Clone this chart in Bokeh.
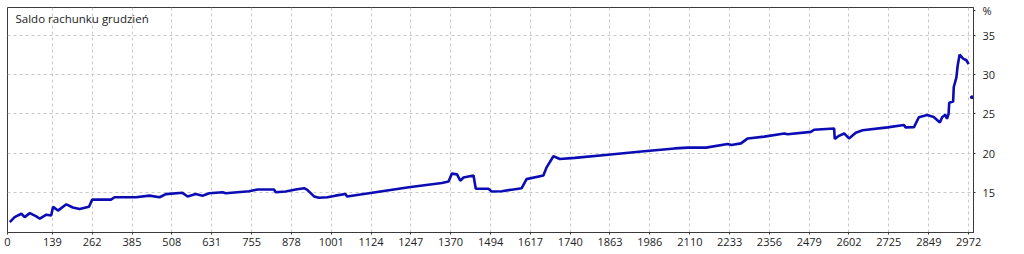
from bokeh.plotting import figure
from bokeh.models import Range1d, FixedTicker, Label, ColumnDataSource
from bokeh.embed import file_html
from bokeh.resources import INLINE

title_text = "Saldo rachunku grudzień"
unit_text = "%"
unit_pos = 38.1

x_ticks = [0, 139, 262, 385, 508, 631, 755, 878, 1001, 1124, 1247, 1370, 1494,
           1617, 1740, 1863, 1986, 2110, 2233, 2356, 2479, 2602, 2725, 2849, 2972]
y_ticks = [15, 20, 25, 30, 35]

trade = [7, 22, 43, 53, 69, 89, 100, 120, 135, 141, 156, 182, 202, 223, 252, 262,
         320, 331, 397, 439, 470, 490, 541, 557, 582, 603, 624, 665, 675, 747, 773,
         824, 829, 860, 891, 917, 927, 948, 963, 989, 1014, 1045, 1050, 1138, 1241,
         1343, 1364, 1374, 1390, 1400, 1410, 1441, 1448, 1487, 1497, 1528, 1590, 1605,
         1657, 1667, 1688, 1708, 1754, 1857, 1960, 2063, 2104, 2160, 2227, 2238, 2268,
         2289, 2340, 2402, 2412, 2484, 2494, 2556, 2558, 2571, 2587, 2602, 2623, 2644,
         2721, 2772, 2777, 2803, 2818, 2844, 2864, 2883, 2890, 2900, 2905, 2910, 2912,
         2924, 2926, 2934, 2938, 2944, 2955, 2965, 2972]
balance = [11.24, 11.87, 12.3, 11.87, 12.38, 11.96, 11.67, 12.18, 12.09, 13.2, 12.7,
           13.5, 13.1, 12.9, 13.2, 14.1, 14.1, 14.4, 14.4, 14.6, 14.4, 14.8, 14.96,
           14.5, 14.8, 14.6, 14.9, 15.04, 14.9, 15.16, 15.38, 15.38, 15.04, 15.13,
           15.38, 15.55, 15.34, 14.5, 14.33, 14.4, 14.6, 14.8, 14.5, 15.04, 15.67,
           16.2, 16.4, 17.4, 17.3, 16.5, 16.9, 17.15, 15.47, 15.47, 15.13, 15.16,
           15.55, 16.7, 17.15, 18.2, 19.6, 19.26, 19.4, 19.8, 20.2, 20.6, 20.7, 20.7,
           21.16, 21.04, 21.24, 21.87, 22.1, 22.5, 22.4, 22.7, 22.97, 23.14, 21.8,
           22.2, 22.5, 21.87, 22.6, 22.9, 23.27, 23.57, 23.27, 23.3, 24.56, 24.85,
           24.6, 23.9, 24.56, 24.87, 24.36, 25.0, 26.4, 26.55, 28.4, 29.6, 31.1,
           32.5, 32.0, 31.8, 31.3]
final_trade = [2982]
final_balance = [27.1]

TXT = "#222222"
LINE = "#0c0cb4"
AX = "#3a3a3a"

p = figure(width=1024, height=254, output_backend="svg", toolbar_location=None,
           x_range=Range1d(0, 2987), y_range=Range1d(9.92, 38.5),
           y_axis_location="right",
           min_border_left=7, min_border_right=51, min_border_top=7, min_border_bottom=22)
p.background_fill_color = "white"
p.border_fill_color = "white"
p.outline_line_color = AX
p.outline_line_width = 1

p.xaxis.ticker = FixedTicker(ticks=x_ticks)
p.yaxis.ticker = FixedTicker(ticks=y_ticks + [unit_pos])
p.yaxis.major_label_overrides = {unit_pos: unit_text}
for ax in (p.xaxis[0], p.yaxis[0]):
    ax.major_tick_in = 0
    ax.major_tick_out = 2
    ax.minor_tick_line_color = None
    ax.axis_line_color = AX
    ax.major_tick_line_color = AX
    ax.major_label_text_font = "Open Sans"
    ax.major_label_text_font_size = "11px"
    ax.major_label_text_color = TXT
p.xaxis.major_label_standoff = 3
p.xaxis.major_label_text_align = "right"
p.yaxis.major_label_standoff = 7

p.xgrid.ticker = FixedTicker(ticks=x_ticks)
p.ygrid.ticker = FixedTicker(ticks=y_ticks)
for g in (p.xgrid[0], p.ygrid[0]):
    g.grid_line_color = "#c8c8c8"
    g.grid_line_dash = "3 3"
    g.grid_line_width = 1

src = ColumnDataSource(dict(trade=trade, balance=balance))
p.line(x="trade", y="balance", source=src, line_color=LINE, line_width=2.6)
p.scatter(x=final_trade, y=final_balance, size=3, color=LINE)

p.add_layout(Label(x=8, y=214, x_units="screen", y_units="screen", text=title_text,
                   text_font="Open Sans", text_font_size="11.5px", text_color=TXT,
                   text_baseline="middle", text_align="left"))

open("out.html", "w").write(file_html(p, INLINE))
